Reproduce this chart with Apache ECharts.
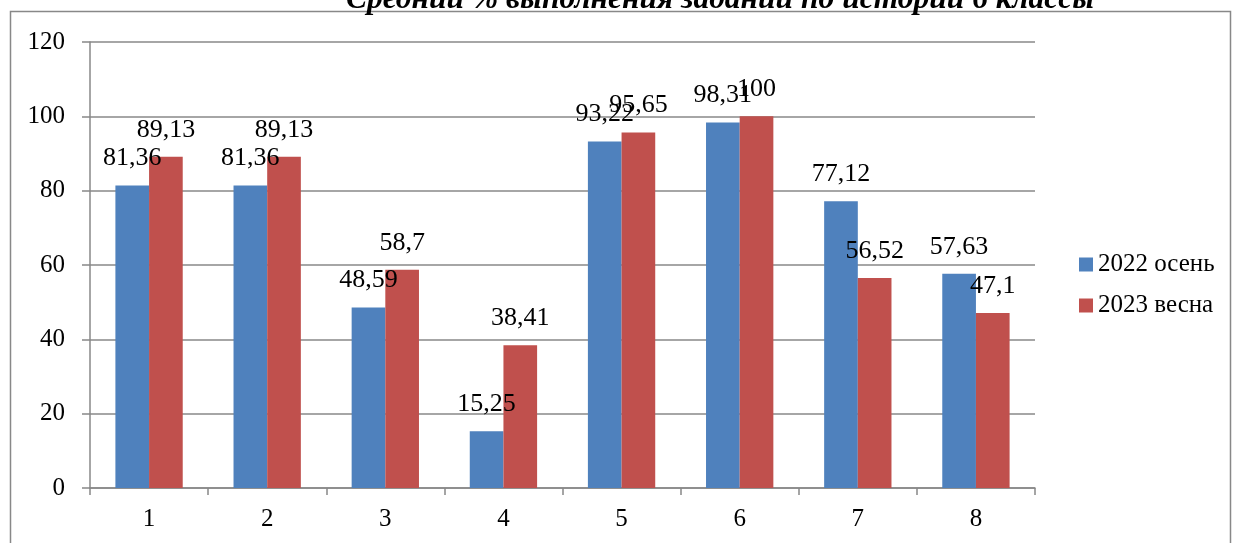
<!DOCTYPE html>
<html><head><meta charset="utf-8">
<script src="https://cdn.jsdelivr.net/npm/echarts@6/dist/echarts.min.js"></script>
<style>html,body{margin:0;padding:0;background:#fff}#c{width:1234px;height:543px}</style>
</head><body><div id="c"></div>
<script>
const categories = ['1','2','3','4','5','6','7','8'];
const autumn2022 = [81.36, 81.36, 48.59, 15.25, 93.22, 98.31, 77.12, 57.63];
const spring2023 = [89.13, 89.13, 58.7, 38.41, 95.65, 100, 56.52, 47.1];
const seriesNames = ['2022 осень', '2023 весна'];
const titleText = 'Средний % выполнения заданий по истории 6 классы';
const F = 'Liberation Serif, Times New Roman, serif';
const fmt = p => String(p.value).replace('.', ',');
const chart = echarts.init(document.getElementById('c'));
const lbl = {show:true, position:'top', distance:14, formatter:fmt, color:'#000', fontFamily:F, fontSize:26};
chart.setOption({
  animation:false,
  title:{text:titleText, left:715, textAlign:'center', top:-21, textStyle:{fontFamily:F, fontSize:31.5, fontWeight:'bold', fontStyle:'italic', color:'#000'}},
  graphic:[{type:'rect', shape:{x:10.5, y:11.5, width:1220, height:560}, style:{fill:null, stroke:'#888', lineWidth:1.5}, z:-1}],
  legend:{orient:'vertical', left:1074, top:247, itemWidth:14, itemHeight:14, itemGap:16, icon:'rect',
    textStyle:{fontFamily:F, fontSize:25, color:'#000'}, data:seriesNames},
  grid:{left:90, right:199, top:42, bottom:55},
  xAxis:{type:'category', data:categories,
    axisLine:{lineStyle:{color:'#888', width:1.5}},
    axisTick:{show:true, length:7, lineStyle:{color:'#888', width:1.5}},
    axisLabel:{fontFamily:F, fontSize:25, color:'#000', margin:19}},
  yAxis:{type:'value', min:0, max:120, interval:20,
    axisLine:{show:true, lineStyle:{color:'#888', width:1.5}},
    axisTick:{show:true, length:8, lineStyle:{color:'#888', width:1.5}},
    splitLine:{lineStyle:{color:'#888', width:1.5}},
    axisLabel:{fontFamily:F, fontSize:25, color:'#000', margin:25}},
  series:[
    {name:seriesNames[0], type:'bar', data:autumn2022, barWidth:'28.5%', barGap:'0%', itemStyle:{color:'#4F81BD'}, label:lbl},
    {name:seriesNames[1], type:'bar', data:spring2023, barWidth:'28.5%', itemStyle:{color:'#C0504D'}, label:lbl}
  ]
});
</script></body></html>
